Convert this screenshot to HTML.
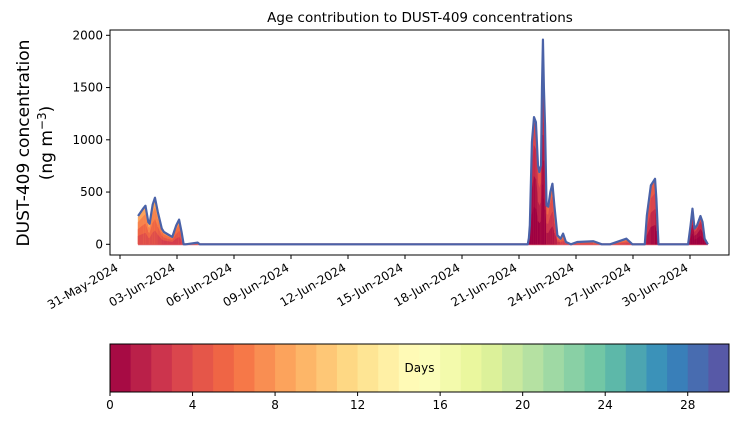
<!DOCTYPE html>
<html><head><meta charset="utf-8"><style>
body{margin:0;background:#fff;font-family:"Liberation Sans","DejaVu Sans",sans-serif}
svg text{font-family:"DejaVu Sans","Liberation Sans",sans-serif}
</style></head><body>
<svg id="c" width="739" height="425" xmlns="http://www.w3.org/2000/svg">
<text x="420" y="22" font-size="13.5" text-anchor="middle">Age contribution to DUST-409 concentrations</text>
<text transform="translate(29,143) rotate(-90)" font-size="17" text-anchor="middle">DUST-409 concentration</text>
<text transform="translate(52,143) rotate(-90)" font-size="17" text-anchor="middle">(ng m<tspan dy="-6" font-size="12">−3</tspan><tspan dy="6">)</tspan></text>
<g id="plot"></g>
<g id="cbar"></g>
</svg>
<script>
const days=[0.95,1.24,1.34,1.49,1.56,1.72,1.84,1.99,2.2,2.31,2.52,2.75,2.96,3.11,3.24,3.35,3.46,4.09,4.2,21.46,21.52,21.57,21.68,21.79,21.89,22.0,22.07,22.16,22.21,22.26,22.31,22.37,22.45,22.54,22.65,22.76,22.86,23.02,23.19,23.32,23.47,23.73,24.06,24.92,25.36,25.79,26.65,26.97,27.62,27.73,27.94,28.16,28.23,28.34,29.9,30.03,30.13,30.24,30.37,30.55,30.66,30.77,30.94];
const totals=[271,347,369,213,197,380,446,309,150,118,95,70,181,236,118,0,0,16,0,0,60,181,978,1217,1169,755,691,755,1500,1959,1500,1137,373,360,500,580,373,86,54,102,22,0,22,29,0,0,54,0,0,277,564,627,436,0,0,181,341,150,181,271,213,54,0];
const ages=[7,7,7,7,7,7,7,7,6,6,6,6,6,6,6,6,6,8,8,3,3,3,2,2,2,3,3,3,2,2,2,2,4,4,4,4,4,5,6,6,6,6,6,7,7,7,6,6,5,4,4,3,3,3,3,2,2,2,2,2,2,2,2];
const yTicks=[0,500,1000,1500,2000];
const xTickDays=[0,3,6,9,12,15,18,21,24,27,30];
const xTickLabels=["31-May-2024","03-Jun-2024","06-Jun-2024","09-Jun-2024","12-Jun-2024","15-Jun-2024","18-Jun-2024","21-Jun-2024","24-Jun-2024","27-Jun-2024","30-Jun-2024"];
const cbTicks=[0,4,8,12,16,20,24,28];
const NS="http://www.w3.org/2000/svg";
const L=110,R=729,T=30,B=255;
const X=d=>120+d*19.0;
const Y=v=>244.3-v*(209/2000);
const anchors=["#9e0142","#d53e4f","#f46d43","#fdae61","#fee08b","#ffffbf","#e6f598","#abdda4","#66c2a5","#3288bd","#5e4fa2"];
function hx(h){return [1,3,5].map(i=>parseInt(h.substr(i,2),16));}
function spectral(t){t=Math.max(0,Math.min(1,t));const p=t*10,i=Math.min(9,Math.floor(p)),f=p-i;const a=hx(anchors[i]),b=hx(anchors[i+1]);return "rgb("+a.map((v,k)=>Math.round(v+(b[k]-v)*f)).join(",")+")";}
function mk(tag,attrs,parent){const e=document.createElementNS(NS,tag);for(const k in attrs)e.setAttribute(k,attrs[k]);parent.appendChild(e);return e;}
const plot=document.getElementById("plot");
const frame=mk("rect",{x:L,y:T,width:R-L,height:B-T,fill:"none",stroke:"#000","stroke-width":1},plot);


const base=mk("line",{x1:X(days[0]),x2:X(days[days.length-1]),y1:Y(0),y2:Y(0),stroke:"#d9687a","stroke-width":2},plot);


const fracs=[1.0,0.8,0.55,0.3];
const shifts=[1.5,0,-1.5,-3];
for(let i=0;i<days.length-1;i++){
  for(let l=0;l<fracs.length;l++){
    const ag=(ages[i]+ages[i+1])/2+shifts[l];
    const x1=X(days[i]),x2=X(days[i+1]);
    const pts=[[x1,Y(0)],[x1,Y(totals[i]*fracs[l]*0.97)],[x2,Y(totals[i+1]*fracs[l]*0.97)],[x2,Y(0)]];
    const p=mk("polygon",{points:pts.map(q=>q.join(",")).join(" "),fill:spectral(Math.max(0,ag)/30),stroke:spectral(Math.max(0,ag)/30),"stroke-width":0.4},plot);
    
    
  }
}
const line=mk("polyline",{points:days.map((d,i)=>X(d)+","+Y(totals[i])).join(" "),fill:"none",stroke:"#4a62a8","stroke-width":2.2,"stroke-linejoin":"round"},plot);


yTicks.forEach(v=>{
  const t=mk("line",{x1:L-4,x2:L,y1:Y(v),y2:Y(v),stroke:"#000"},plot);
  
  
  const tx=mk("text",{x:L-7,y:Y(v)+4,"font-size":12,"text-anchor":"end"},plot);tx.textContent=v;
  
  
});
xTickDays.forEach((d,i)=>{
  const t=mk("line",{x1:X(d),x2:X(d),y1:B,y2:B+4,stroke:"#000"},plot);
  
  
  const tx=mk("text",{transform:"translate("+(X(d)-1)+","+(B+15)+") rotate(-30)","font-size":12,"text-anchor":"end"},plot);tx.textContent=xTickLabels[i];
  
  
});
const cb=document.getElementById("cbar");
const cL=110,cR=729,cT=344,cB=392,w=(cR-cL)/30;
for(let i=0;i<30;i++){
  const r=mk("rect",{x:cL+i*w,y:cT,width:w+0.5,height:cB-cT,fill:spectral((i+0.5)/30)},cb);
  
  
}
const cf=mk("rect",{x:cL,y:cT,width:cR-cL,height:cB-cT,fill:"none",stroke:"#000"},cb);


const dl=mk("text",{x:(cL+cR)/2,y:372,"font-size":12,"text-anchor":"middle"},cb);dl.textContent="Days";


cbTicks.forEach(v=>{
  const x=cL+v*w;
  const t=mk("line",{x1:x,x2:x,y1:cB,y2:cB+4,stroke:"#000"},cb);
  
  
  const tx=mk("text",{x:x,y:cB+17,"font-size":12,"text-anchor":"middle"},cb);tx.textContent=v;
  
  
});
</script>
</body></html>
